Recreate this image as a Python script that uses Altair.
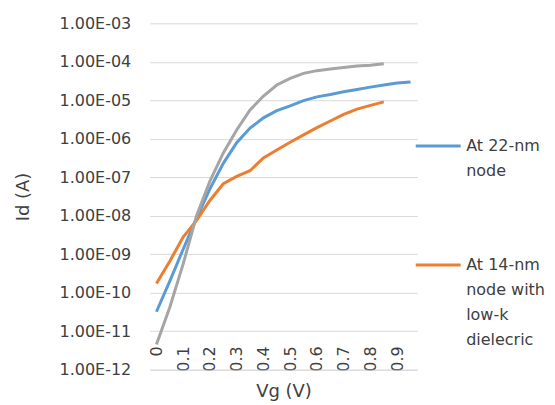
import altair as alt
import pandas as pd

vg = [0, 0.05, 0.1, 0.15, 0.2, 0.25, 0.3, 0.35, 0.4, 0.45,
      0.5, 0.55, 0.6, 0.65, 0.7, 0.75, 0.8, 0.85, 0.9, 0.95]

id_22nm = [3.2e-11, 2.0e-10, 1.35e-9, 8.7e-9, 5.0e-8, 2.3e-7, 7.9e-7, 1.9e-6, 3.5e-6, 5.4e-6,
           7.2e-6, 9.8e-6, 1.23e-5, 1.41e-5, 1.66e-5, 1.9e-5, 2.2e-5, 2.5e-5, 2.8e-5, 3.0e-5]
id_14nm = [1.74e-10, 6.6e-10, 2.8e-9, 7.6e-9, 2.5e-8, 6.8e-8, 1.05e-7, 1.48e-7, 3.2e-7, 5.1e-7,
           8.1e-7, 1.26e-6, 1.95e-6, 2.9e-6, 4.3e-6, 5.9e-6, 7.4e-6, 9.1e-6]
id_ref = [4.5e-12, 4.2e-11, 5.6e-10, 1.0e-8, 7.9e-8, 4.3e-7, 1.7e-6, 5.6e-6, 1.29e-5, 2.5e-5,
          3.7e-5, 5.0e-5, 5.9e-5, 6.5e-5, 7.1e-5, 7.8e-5, 8.1e-5, 8.9e-5]

series_names = ["At 22-nm\nnode", "At 14-nm\nnode with\nlow-k\ndielecric"]
ref_name = "Series 3"
series_colors = ["#5b9bd5", "#ed7d31"]
ref_color = "#a5a5a5"

x_ticks = [0, 0.1, 0.2, 0.3, 0.4, 0.5, 0.6, 0.7, 0.8, 0.9]
y_ticks = [1e-12, 1e-11, 1e-10, 1e-9, 1e-8, 1e-7, 1e-6, 1e-5, 1e-4, 1e-3]

rows = []
for name, vals in zip(series_names + [ref_name], [id_22nm, id_14nm, id_ref]):
    for i, v in enumerate(vals):
        rows.append({"Vg": vg[i], "Id": v, "series": name, "order": i})
df = pd.DataFrame(rows)

FONT = "DejaVu Sans"
TXT = "#404040"

x_enc = alt.X("Vg:Q",
              scale=alt.Scale(domain=[-0.025, 0.975], nice=False, zero=False),
              axis=alt.Axis(values=x_ticks, labelAngle=270, labelAlign="right", labelBaseline="middle",
                            labelPadding=-24, tickSize=0, ticks=False, grid=False,
                            domainColor="#d9d9d9", domainWidth=1,
                            labelExpr="datum.value == 0 ? '0' : format(datum.value, '.1f')",
                            labelFont=FONT, labelFontSize=16, labelColor=TXT,
                            title="Vg (V)", titleFont=FONT, titleFontSize=18, titleFontWeight="normal",
                            titleColor=TXT, titleY=22, titleBaseline="middle",
                            labelOverlap=False, labelBound=False, labelFlush=False))
y_enc = alt.Y("Id:Q",
              scale=alt.Scale(type="log", domain=[1e-12, 1e-3], nice=False),
              axis=alt.Axis(values=y_ticks, tickSize=0, ticks=False, domain=False, grid=True,
                            gridColor="#d9d9d9", gridWidth=1, labelPadding=19,
                            labelExpr="'1.00E-' + (round(-log(datum.value)/LN10) < 10 ? '0' : '') + round(-log(datum.value)/LN10)",
                            labelFont=FONT, labelFontSize=16, labelColor=TXT,
                            title="Id (A)", titleFont=FONT, titleFontSize=18, titleFontWeight="normal",
                            titleColor=TXT, titleAngle=270, titleX=-126, titleY=173.5,
                            titleAlign="center", titleBaseline="middle", labelOverlap=False))

base = alt.Chart(df).encode(x=x_enc, y=y_enc, order="order:Q")

lines = base.transform_filter(
    alt.FieldOneOfPredicate(field="series", oneOf=series_names)
).mark_line(strokeWidth=3).encode(
    color=alt.Color("series:N",
                    scale=alt.Scale(domain=series_names, range=series_colors),
                    sort=series_names,
                    legend=alt.Legend(title=None, orient="none", legendX=265, legendY=99,
                                      symbolType="stroke", symbolSize=2025, symbolStrokeWidth=3,
                                      labelExpr="split(datum.label, '\\n')",
                                      labelFont=FONT, labelFontSize=16, labelColor=TXT,
                                      labelBaseline="middle", labelOffset=4, labelLimit=200,
                                      rowPadding=62, padding=0))
)
ref_line = base.transform_filter(
    alt.datum.series == ref_name
).mark_line(strokeWidth=3, color=ref_color)

chart = alt.layer(lines, ref_line).properties(
    width=268, height=347,
    autosize=alt.AutoSizeParams(type="none"),
    padding={"left": 142, "top": 15, "right": 130, "bottom": 34},
).configure(
    font=FONT,
    style={"guide-label": {"lineHeight": 25}},
).configure_axis(labelOverlap=False).configure_view(stroke=None)

chart.save("out.html", embed_options={"renderer": "svg", "actions": False})
